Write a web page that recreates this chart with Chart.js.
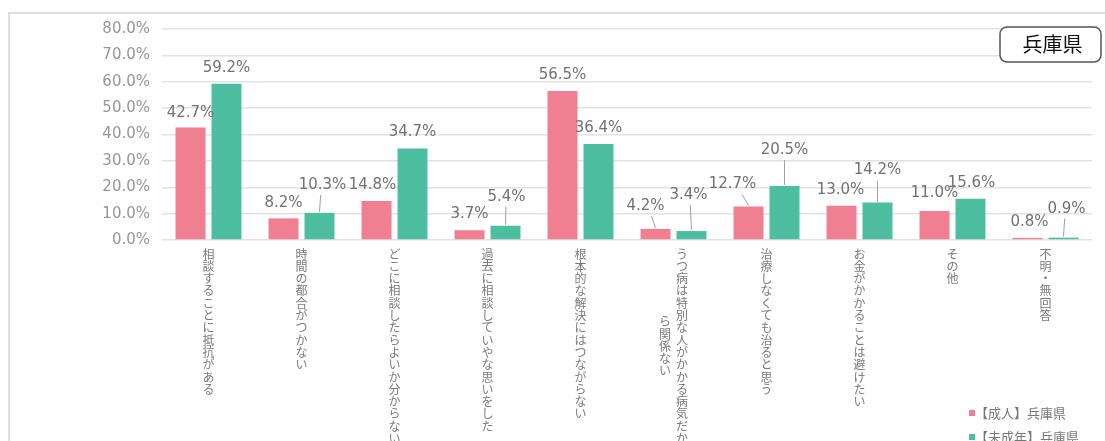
<!DOCTYPE html>
<html>
<head>
<meta charset="utf-8">
<script src="https://cdn.jsdelivr.net/npm/chart.js@4.4.1/dist/chart.umd.min.js"></script>
<style>
  html, body { margin: 0; padding: 0; background: #ffffff; }
  canvas { display: block; }
</style>
</head>
<body>
<canvas id="chart" width="1105" height="441"></canvas>
<script>
// Reasons for not seeking help (%), Hyogo prefecture
const categories = [
  '相談することに抵抗がある',
  '時間の都合がつかない',
  'どこに相談したらよいか分からない',
  '過去に相談していやな思いをした',
  '根本的な解決にはつながらない',
  'うつ病は特別な人がかかる病気だから関係ない',
  '治療しなくても治ると思う',
  'お金がかかることは避けたい',
  'その他',
  '不明・無回答'
];
const adultValues = [42.7, 8.2, 14.8, 3.7, 56.5, 4.2, 12.7, 13.0, 11.0, 0.8];
const minorValues = [59.2, 10.3, 34.7, 5.4, 36.4, 3.4, 20.5, 14.2, 15.6, 0.9];
const seriesNames = ['【成人】兵庫県', '【未成年】兵庫県'];
const regionName = '兵庫県';
const yMin = 0, yMax = 80, yStep = 10;

// Value-label nudges [dx, dy, leader line] so crowded labels stay readable
const adultLabelShift = [
  [0, 2, false], [0, 1, false], [-4, 0, false], [0, 0, false], [0, 0, false],
  [-10, -7, true], [-16, -6, true], [-1, 0, false], [0, -2, false], [2, 0, false]
];
const minorLabelShift = [
  [0, 0, false], [3, -12, true], [0, 0, false], [1, -13, true], [0, 0, false],
  [-3, -20, true], [0, -20, true], [0, -16, true], [1, 0, false], [3, -13, true]
];

const COLORS = ['rgb(240,128,145)', 'rgb(77,190,160)'];
const NUM_FONT = '15px "DejaVu Sans"';
const JP_FONT = '"Noto Sans CJK JP"';

const decorations = {
  id: 'decorations',
  beforeDraw(chart) {
    const ctx = chart.ctx;
    ctx.save();
    ctx.fillStyle = '#ffffff';
    ctx.fillRect(0, 0, chart.width, chart.height);
    // card frame
    ctx.strokeStyle = '#dedede';
    ctx.lineWidth = 2;
    ctx.beginPath();
    ctx.moveTo(9, chart.height);
    ctx.lineTo(9, 13);
    ctx.lineTo(chart.width, 13);
    ctx.stroke();
    ctx.restore();
  },
  afterDraw(chart) {
    const ctx = chart.ctx;
    const xs = chart.scales.x;
    const area = chart.chartArea;
    ctx.save();

    // value labels
    ctx.font = NUM_FONT;
    ctx.textAlign = 'center';
    ctx.textBaseline = 'middle';
    const shifts = [adultLabelShift, minorLabelShift];
    chart.data.datasets.forEach((ds, di) => {
      const meta = chart.getDatasetMeta(di);
      meta.data.forEach((bar, i) => {
        const [dx, dy, leader] = shifts[di][i];
        const lx = bar.x + dx;
        const ly = bar.y - 16 + dy;
        if (leader) {
          ctx.strokeStyle = '#a0a0a0';
          ctx.lineWidth = 1;
          ctx.beginPath();
          ctx.moveTo(lx + (bar.x - lx) * 0.6, ly + 10);
          ctx.lineTo(bar.x, bar.y - 1);
          ctx.stroke();
        }
        ctx.fillStyle = '#717171';
        ctx.fillText(ds.data[i].toFixed(1) + '%', lx, ly);
      });
    });

    // vertical category labels, wrapped into columns of 16 characters
    ctx.font = '12px ' + JP_FONT;
    ctx.fillStyle = '#7a7a7a';
    const step = 12.3, colGap = 17, maxPerCol = 16;
    categories.forEach((label, i) => {
      const chars = Array.from(label);
      const cols = [];
      for (let k = 0; k < chars.length; k += maxPerCol) cols.push(chars.slice(k, k + maxPerCol));
      const cx = xs.getPixelForValue(i);
      const longest = Math.max(...cols.map(c => c.length));
      cols.forEach((col, j) => {
        const x = cx + (cols.length - 1) / 2 * colGap - j * colGap;
        const y0 = area.bottom + 14 + (longest - col.length) * step / 2;
        col.forEach((ch, k) => ctx.fillText(ch, x, y0 + k * step));
      });
    });

    // legend
    ctx.textAlign = 'left';
    ctx.font = '13px ' + JP_FONT;
    seriesNames.forEach((name, k) => {
      const y = 413 + k * 24;
      ctx.fillStyle = COLORS[k];
      ctx.fillRect(969, y - 3, 6, 6);
      ctx.fillStyle = '#777777';
      ctx.fillText(name, 975, y);
    });

    // region badge
    const bx = 1000, by = 27, bw = 101, bh = 35, r = 7;
    ctx.beginPath();
    ctx.moveTo(bx + r, by);
    ctx.arcTo(bx + bw, by, bx + bw, by + bh, r);
    ctx.arcTo(bx + bw, by + bh, bx, by + bh, r);
    ctx.arcTo(bx, by + bh, bx, by, r);
    ctx.arcTo(bx, by, bx + bw, by, r);
    ctx.closePath();
    ctx.fillStyle = '#ffffff';
    ctx.fill();
    ctx.strokeStyle = '#555555';
    ctx.lineWidth = 1.5;
    ctx.stroke();
    ctx.fillStyle = '#111111';
    ctx.font = '20px ' + JP_FONT;
    ctx.textAlign = 'center';
    ctx.fillText(regionName, bx + bw / 2 + 2, by + bh / 2);
    ctx.restore();
  }
};

new Chart(document.getElementById('chart'), {
  type: 'bar',
  data: {
    labels: categories,
    datasets: [
      { label: seriesNames[0], data: adultValues, backgroundColor: COLORS[0],
        categoryPercentage: 0.774, barPercentage: 0.833 },
      { label: seriesNames[1], data: minorValues, backgroundColor: COLORS[1],
        categoryPercentage: 0.774, barPercentage: 0.833 }
    ]
  },
  options: {
    responsive: false,
    animation: false,
    layout: { padding: { left: 0, top: 29, right: 13, bottom: 0 } },
    plugins: { legend: { display: false }, tooltip: { enabled: false } },
    scales: {
      x: {
        grid: { display: false },
        border: { display: false },
        ticks: { display: false },
        afterFit(s) { s.height = 201; }
      },
      y: {
        min: yMin, max: yMax,
        ticks: {
          stepSize: yStep,
          callback: v => v.toFixed(1) + '%',
          color: '#969696',
          font: { family: 'DejaVu Sans', size: 15 },
          padding: 12
        },
        grid: { color: '#e2e2e2', lineWidth: 1.5, drawTicks: false },
        border: { display: false },
        afterFit(s) { s.width = 162; }
      }
    }
  },
  plugins: [decorations]
});
</script>
</body>
</html>
